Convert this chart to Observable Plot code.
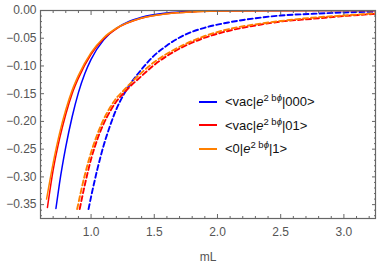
<!DOCTYPE html>
<html><head><meta charset="utf-8">
<script src="https://cdn.jsdelivr.net/npm/d3@7"></script>
<script src="https://cdn.jsdelivr.net/npm/@observablehq/plot@0.6"></script>
<style>
body{margin:0;background:#fff;}
#wrap{position:relative;width:382px;height:265px;font-family:"Liberation Sans",Arial,sans-serif;}
.legend{position:absolute;left:199px;top:90px;font-size:13px;color:#111;}
.row{height:23.5px;display:flex;align-items:center;white-space:nowrap;}
.sw{width:18px;height:1.7px;margin-right:8px;}
sup{font-size:9.5px;vertical-align:0;position:relative;top:-5px;}
</style></head><body><div id="wrap"></div>
<script>
// ---- data ----
const xBlueSolid = [0.722, 0.75, 0.80, 0.85, 0.90, 0.95, 1.00, 1.10, 1.20, 1.30, 1.40, 1.60, 1.80, 2.00, 2.40, 2.80, 3.25];
const yBlueSolid = [-0.357, -0.312, -0.246, -0.192, -0.148, -0.114, -0.088, -0.053, -0.032, -0.0196, -0.012, -0.0044, -0.0016, -0.0006, -0.0001, -0.00003, -0.00001];
const xRedSolid = [0.655, 0.70, 0.75, 0.80, 0.85, 0.90, 1.00, 1.10, 1.20, 1.40, 1.60, 1.80, 2.00, 2.40, 2.80, 3.25];
const yRedSolid = [-0.355, -0.288, -0.232, -0.187, -0.150, -0.122, -0.079, -0.051, -0.033, -0.014, -0.006, -0.0026, -0.0011, -0.0003, -0.0001, -0.00002];
const xOrangeSolid = [0.648, 0.70, 0.75, 0.80, 0.85, 0.90, 1.00, 1.10, 1.20, 1.40, 1.60, 1.80, 2.00, 2.40, 2.80, 3.25];
const yOrangeSolid = [-0.340, -0.275, -0.222, -0.179, -0.144, -0.117, -0.076, -0.049, -0.032, -0.0136, -0.0058, -0.0025, -0.001, -0.0003, -0.0001, -0.00002];
const xBlueDashed = [0.98, 1.00, 1.05, 1.10, 1.15, 1.20, 1.25, 1.30, 1.40, 1.50, 1.60, 1.75, 1.90, 2.10, 2.30, 2.50, 2.75, 3.00, 3.25];
const yBlueDashed = [-0.358, -0.336, -0.286, -0.243, -0.208, -0.178, -0.155, -0.136, -0.106, -0.081, -0.063, -0.043, -0.031, -0.021, -0.014, -0.009, -0.006, -0.0035, -0.002];
const xRedDashed = [0.91, 0.95, 1.00, 1.05, 1.10, 1.15, 1.20, 1.25, 1.30, 1.40, 1.50, 1.60, 1.75, 1.90, 2.10, 2.30, 2.50, 2.75, 3.00, 3.25];
const yRedDashed = [-0.358, -0.315, -0.268, -0.232, -0.204, -0.182, -0.164, -0.151, -0.139, -0.118, -0.098, -0.082, -0.063, -0.049, -0.036, -0.027, -0.020, -0.015, -0.010, -0.006];
const xOrangeDashed = [0.89, 0.95, 1.00, 1.05, 1.10, 1.15, 1.20, 1.25, 1.30, 1.40, 1.50, 1.60, 1.75, 1.90, 2.10, 2.30, 2.50, 2.75, 3.00, 3.25];
const yOrangeDashed = [-0.358, -0.297, -0.256, -0.223, -0.196, -0.175, -0.158, -0.146, -0.134, -0.112, -0.093, -0.078, -0.060, -0.046, -0.033, -0.025, -0.019, -0.013, -0.009, -0.005];

const xTicks = [1.0, 1.5, 2.0, 2.5, 3.0];
const xMinorTicks = [0.6,0.7,0.8,0.9,1.1,1.2,1.3,1.4,1.6,1.7,1.8,1.9,2.1,2.2,2.3,2.4,2.6,2.7,2.8,2.9,3.1,3.2];
const yTicks = [0, -0.05, -0.10, -0.15, -0.20, -0.25, -0.30, -0.35];
const yMinorTicks = [-0.01,-0.02,-0.03,-0.04,-0.06,-0.07,-0.08,-0.09,-0.11,-0.12,-0.13,-0.14,-0.16,-0.17,-0.18,-0.19,-0.21,-0.22,-0.23,-0.24,-0.26,-0.27,-0.28,-0.29,-0.31,-0.32,-0.33,-0.34,-0.36,-0.37];
const xLabel = "mL";
const legendPre = ["<vac|", "<vac|", "<0|"];
const legendPost = ["|000>", "|01>", "|1>"];
const colors = ["#0000ff", "#ff0000", "#ff8000"];

const toRows = (xs, ys) => xs.map((x, i) => ({x, y: ys[i]}));
const series = [
  {d: toRows(xBlueDashed, yBlueDashed), c: colors[0], dash: true},
  {d: toRows(xRedDashed, yRedDashed), c: colors[1], dash: true},
  {d: toRows(xOrangeDashed, yOrangeDashed), c: colors[2], dash: true},
  {d: toRows(xBlueSolid, yBlueSolid), c: colors[0], dash: false},
  {d: toRows(xRedSolid, yRedSolid), c: colors[1], dash: false},
  {d: toRows(xOrangeSolid, yOrangeSolid), c: colors[2], dash: false}
];

const axisCol = "#666";
const chart = Plot.plot({
  width: 382, height: 265,
  marginLeft: 40, marginRight: 7, marginTop: 10, marginBottom: 47,
  style: {fontFamily: '"Liberation Sans", Arial, sans-serif', fontSize: "12px", color: "#555", background: "white", overflow: "visible"},
  x: {domain: [0.6, 3.25]},
  y: {domain: [-0.375, 0]},
  marks: [
    ...series.map(s => Plot.line(s.d, {x: "x", y: "y", stroke: s.c, strokeWidth: s.dash ? 1.9 : 1.5, strokeDasharray: s.dash ? "5,3" : null, curve: "monotone-x", clip: true})),
    Plot.frame({stroke: axisCol, strokeWidth: 1.2}),
    Plot.axisX(xTicks, {tickSize: -4, tickPadding: 13, tickFormat: d3.format(".1f"), stroke: axisCol, label: xLabel, labelAnchor: "center", labelArrow: "none", labelOffset: 42}),
    Plot.axisX(xMinorTicks, {tickSize: -2, tickFormat: () => "", stroke: axisCol, label: null}),
    Plot.axisX(xTicks, {anchor: "top", tickSize: -4, tickFormat: () => "", stroke: axisCol, label: null}),
    Plot.axisX(xMinorTicks, {anchor: "top", tickSize: -2, tickFormat: () => "", stroke: axisCol, label: null}),
    Plot.axisY(yTicks, {tickSize: -4, tickPadding: 8, tickFormat: d3.format(".2f"), stroke: axisCol, label: null}),
    Plot.axisY(yMinorTicks, {tickSize: -2, tickFormat: () => "", stroke: axisCol, label: null}),
    Plot.axisY(yTicks, {anchor: "right", tickSize: -4, tickFormat: () => "", stroke: axisCol, label: null}),
    Plot.axisY(yMinorTicks, {anchor: "right", tickSize: -2, tickFormat: () => "", stroke: axisCol, label: null})
  ]
});
const wrap = document.getElementById("wrap");
wrap.appendChild(chart);

const leg = document.createElement("div");
leg.className = "legend";
legendPre.forEach((pre, i) => {
  const row = document.createElement("div");
  row.className = "row";
  const sw = document.createElement("div");
  sw.className = "sw"; sw.style.background = colors[i];
  row.appendChild(sw);
  const t = document.createElement("span");
  t.appendChild(document.createTextNode(pre));
  const e = document.createElement("i"); e.textContent = "e"; t.appendChild(e);
  const sup = document.createElement("sup");
  sup.appendChild(document.createTextNode("2 b"));
  const ph = document.createElement("i"); ph.textContent = "ϕ"; sup.appendChild(ph);
  t.appendChild(sup);
  t.appendChild(document.createTextNode(legendPost[i]));
  row.appendChild(t);
  leg.appendChild(row);
});
wrap.appendChild(leg);
</script></body></html>
